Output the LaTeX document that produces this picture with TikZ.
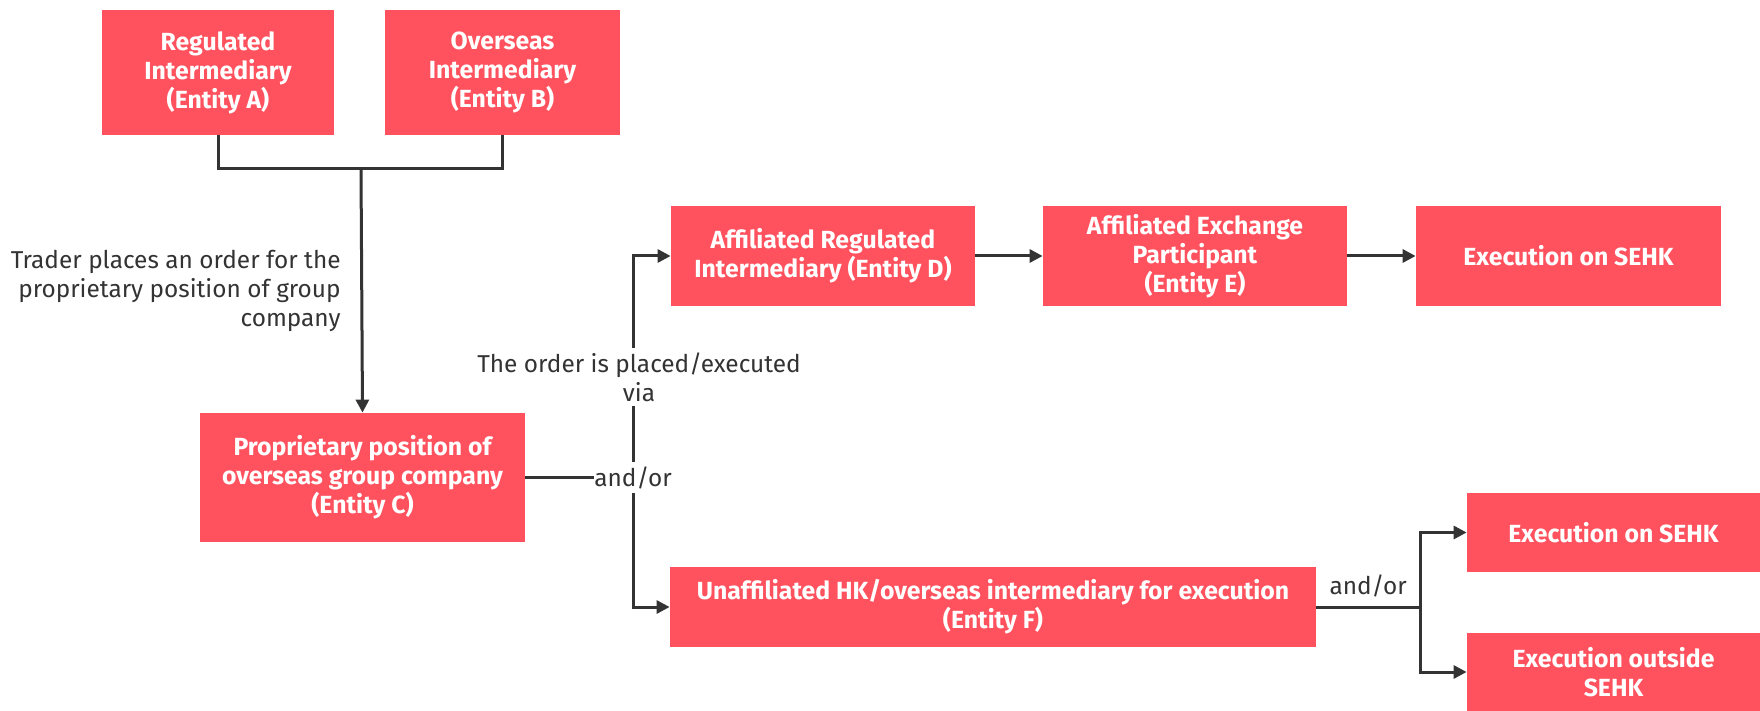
\documentclass[tikz,border=0pt]{standalone}
\usepackage{fontspec}
\setmainfont{Fira Sans}
\usetikzlibrary{arrows.meta,positioning}
\definecolor{boxred}{HTML}{FF525E}
\definecolor{linegray}{HTML}{333333}

\begin{document}
\begin{tikzpicture}[x=0.5pt, y=-0.5pt,
  entity/.style={rectangle, fill=boxred, text=white, align=center, inner sep=0pt,
    font=\bfseries\fontsize{12.4}{14.5}\selectfont},
  note/.style={text=linegray, inner sep=0pt, font=\fontsize{12.2}{14.5}\selectfont},
  link/.style={draw=linegray, line width=1.5pt},
  flow/.style={link, -{Triangle[length=6.5pt, width=6.5pt]}}]
\useasboundingbox (0,0) rectangle (1760,711);

% Source intermediaries
\node[entity, minimum width=116pt, minimum height=62.5pt] (entA) at (218,72.5) {Regulated\\Intermediary\\(Entity A)};
\node[entity, minimum width=117.5pt, minimum height=62.5pt] (entB) at (502.5,72.5) {Overseas\\Intermediary\\(Entity B)};

% Group company
\node[entity, minimum width=162.5pt, minimum height=64.5pt] (entC) at (362.5,477.5) {Proprietary position of\\overseas group company\\(Entity C)};

% Upper route
\node[entity, minimum width=152pt, minimum height=50pt] (entD) at (823,256) {Affiliated Regulated\\Intermediary (Entity D)};
\node[entity, minimum width=152pt, minimum height=50pt] (entE) at (1195,256) {Affiliated Exchange\\Participant\\(Entity E)};
\node[entity, minimum width=152.5pt, minimum height=50pt] (exUp) at (1568.5,256) {Execution on SEHK};

% Lower route
\node[entity, minimum width=323pt, minimum height=40pt] (entF) at (993,607) {Unaffiliated HK/overseas intermediary for execution\\(Entity F)};
\node[entity, minimum width=146.5pt, minimum height=39.5pt] (exOn) at (1613.5,532.5) {Execution on SEHK};
\node[entity, minimum width=146.5pt, minimum height=39pt] (exOut) at (1613.5,672) {Execution outside\\SEHK};

% Labels
\node[note, align=right, anchor=east] (trader) at (341,291) {Trader places an order for the\\proprietary position of group\\company};
\node[note, align=center, inner sep=2pt] (via) at (639,377) {The order is placed/executed\\via};
\node[note, fill=white, inner ysep=2pt] (andor) at (633,477.5) {and/or};

% Joining A and B
\coordinate (abjoin) at (361,169);
\draw[link] (entA.south) |- (abjoin) -| (entB.south);
\draw[flow] (abjoin) -- (entC.north);

% Split after C
\draw[link] (entC.east) -- (andor.west);
\draw[flow] (via.north -| andor) |- (entD.west);
\draw[link] (via.south -| andor) -- (andor.north);
\draw[flow] (andor.south) |- (entF.west);
\draw[flow] (entD) -- (entE);
\draw[flow] (entE) -- (exUp);

% Split after F
\coordinate (fsplit) at (1420,607);
\draw[link] (entF.east) -- node[note, above=4pt] (andorF) {and/or} (fsplit);
\draw[flow] (fsplit) |- (exOn.west);
\draw[flow] (fsplit) |- (exOut.west);
\end{tikzpicture}
\end{document}
